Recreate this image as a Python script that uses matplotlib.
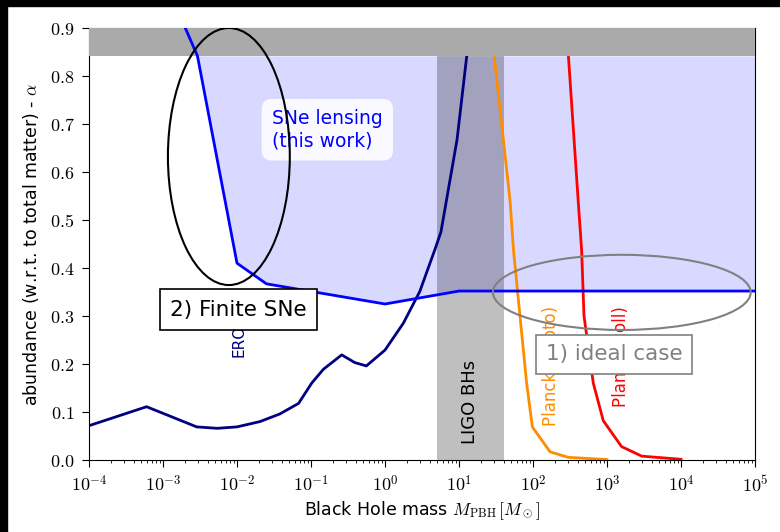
import numpy as np
import matplotlib
matplotlib.use("Agg")
import matplotlib.pyplot as plt
from matplotlib.patches import Ellipse, Rectangle
from matplotlib.ticker import FuncFormatter, FormatStrFormatter, LogLocator

plt.rcParams['mathtext.fontset'] = 'cm'
plt.rcParams['font.family'] = 'DejaVu Sans'

# SNe lensing bound (this work)
sne_m = [2.0e-3, 2.92e-3, 1.0e-2, 2.5e-2, 1.0, 10.0, 1e5]
sne_a = [0.90, 0.842, 0.41, 0.367, 0.325, 0.352, 0.352]

# EROS microlensing
eros_m = [1e-4, 6e-4, 2.85e-3, 5.4e-3, 1e-2, 2.04e-2, 3.8e-2, 6.8e-2, 0.102, 0.147,
          0.26, 0.39, 0.56, 1.0, 1.77, 2.95, 4.7, 5.7, 9.4, 12.8]
eros_a = [0.0715, 0.111, 0.069, 0.066, 0.069, 0.080, 0.096, 0.118, 0.16, 0.189,
          0.219, 0.203, 0.196, 0.229, 0.285, 0.351, 0.4375, 0.475, 0.667, 0.845]

# Planck (photo)
photo_m = [29.7, 49, 54.5, 66.7, 82, 98, 170, 300, 1000]
photo_a = [0.845, 0.54, 0.4375, 0.30, 0.16, 0.069, 0.017, 0.0055, 0.001]

# Planck (coll)
coll_m = [300, 408, 454, 489, 653, 890, 1570, 2950, 1e4]
coll_a = [0.845, 0.54, 0.4375, 0.30, 0.16, 0.082, 0.028, 0.008, 0.0015]

ligo_range = [5, 40]
alpha_max = 0.842

fig = plt.figure(figsize=(7.8, 5.32), dpi=100)
ax = fig.add_axes([89/780, 1-460/532, 666/780, 432/532])

ax.set_xscale('log')
ax.set_xlim(1e-4, 1e5)
ax.set_ylim(0, 0.9)

# excluded region from SNe lensing
xx = np.logspace(-4, 5, 2000)
yy = np.interp(np.log10(xx), np.log10(sne_m), sne_a, left=2.0)
ax.fill_between(xx, yy, alpha_max, where=yy < alpha_max, interpolate=True,
                color='blue', alpha=0.15, lw=0, zorder=1)
ax.axhspan(alpha_max, 0.9, color='#aaaaaa', lw=0, zorder=3)
ax.axvspan(ligo_range[0], ligo_range[1], color='k', alpha=0.25, lw=0, zorder=2)

ax.plot(eros_m, eros_a, color='navy', lw=2, zorder=2.5)
ax.plot(photo_m, photo_a, color='darkorange', lw=2, zorder=2.5)
ax.plot(coll_m, coll_a, color='red', lw=2, zorder=2.5)
ax.plot(sne_m, sne_a, color='blue', lw=2, zorder=4)

ax.text(0.0108, 0.215, 'EROS', color='navy', rotation=90, ha='center', va='bottom',
        fontsize=11, zorder=5)
ax.text(14, 0.12, 'LIGO BHs', color='k', rotation=90, ha='center', va='center',
        fontsize=13, zorder=5)
ax.text(175, 0.071, 'Planck (photo)', color='darkorange', rotation=90, ha='center',
        va='bottom', fontsize=12, zorder=5)
ax.text(1550, 0.11, 'Planck (coll)', color='red', rotation=90, ha='center',
        va='bottom', fontsize=12, zorder=5)

ax.text(0.0297, 0.688, 'SNe lensing\n(this work)', color='blue', fontsize=13.5,
        ha='left', va='center', linespacing=1.2, zorder=6,
        bbox=dict(boxstyle='round,pad=0.55', fc='white', ec='none', alpha=0.85))

ax.add_patch(Ellipse((0.21, 0.7025), 0.183, 0.595, transform=ax.transAxes,
                     fill=False, ec='k', lw=1.5, zorder=7))
ax.add_patch(Ellipse((0.800, 0.388), 0.387, 0.174, transform=ax.transAxes,
                     fill=False, ec='gray', lw=1.5, zorder=7))

ax.text(0.0105, 0.313, '2) Finite SNe', color='k', fontsize=15.5, ha='center',
        va='center', zorder=8,
        bbox=dict(boxstyle='square,pad=0.48', fc='white', ec='k', lw=1.2))
ax.text(1262, 0.22, '1) ideal case', color='gray', fontsize=15.5, ha='center',
        va='center', zorder=8,
        bbox=dict(boxstyle='square,pad=0.45', fc='white', ec='gray', lw=1.2))

ax.xaxis.set_major_locator(LogLocator(base=10, numticks=20))
ax.xaxis.set_minor_locator(LogLocator(base=10, subs=np.arange(2, 10), numticks=20))
ax.xaxis.set_major_formatter(FuncFormatter(lambda v, p: r'$10^{%d}$' % round(np.log10(v))))
ax.set_yticks(np.arange(0, 0.91, 0.1))
ax.yaxis.set_major_formatter(FormatStrFormatter(r'$%.1f$'))
ax.tick_params(which='major', labelsize=13, length=5, pad=5.5)
ax.tick_params(which='minor', length=2.5)

ax.set_xlabel(r'Black Hole mass $M_{\rm PBH}\,[M_\odot]$', fontsize=12.5, labelpad=3)
ax.set_ylabel(r'abundance (w.r.t. to total matter) - $\alpha$', fontsize=12.5, labelpad=6)

# black screenshot border
fig.patches.append(Rectangle((0, 1-6/532), 1, 6/532, transform=fig.transFigure,
                             color='black', zorder=10))
fig.patches.append(Rectangle((0, 0), 7/780, 1, transform=fig.transFigure,
                             color='black', zorder=10))

fig.savefig('out.png', dpi=100)
